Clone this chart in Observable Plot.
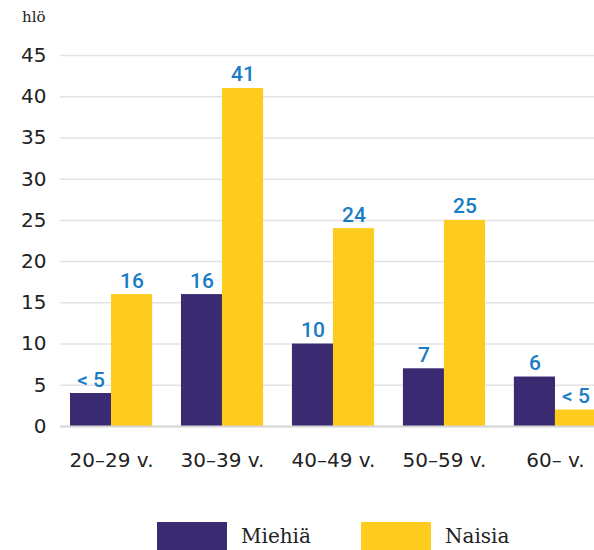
<!DOCTYPE html>
<html><head><meta charset="utf-8">
<script src="https://cdn.jsdelivr.net/npm/d3@7"></script>
<script src="https://cdn.jsdelivr.net/npm/@observablehq/plot@0.6"></script>
<style>
body{margin:0;background:#fff;}
#wrap{position:relative;width:594px;}
#unit{position:absolute;left:22px;top:8px;font:15px "DejaVu Serif",serif;color:#222;}
#legend{position:relative;height:50px;font:20px "DejaVu Serif",serif;color:#222;}
.sw{position:absolute;top:22px;width:70px;height:28px;}
.lt{position:absolute;top:24px;}
</style></head><body>
<div id="wrap"><div id="unit">hlö</div><div id="chart"></div>
<div id="legend">
<div class="sw" style="left:157px;background:#392a72"></div><div class="lt" style="left:241px">Miehiä</div>
<div class="sw" style="left:361px;background:#fecc1f"></div><div class="lt" style="left:445px">Naisia</div>
</div></div>
<script>
const groups = ["20–29 v.","30–39 v.","40–49 v.","50–59 v.","60– v."];
const men = [4,16,10,7,6];
const menLabels = ["< 5","16","10","7","6"];
const women = [16,41,24,25,2];
const womenLabels = ["16","41","24","25","< 5"];
const yTicks = [0,5,10,15,20,25,30,35,40,45];

const menData = groups.map((g,i)=>({g, v:men[i], l:menLabels[i]}));
const womenData = groups.map((g,i)=>({g, v:women[i], l:womenLabels[i]}));

const chart = Plot.plot({
  width: 594, height: 500,
  marginTop: 55, marginBottom: 74, marginLeft: 60, marginRight: 0,
  style: {fontFamily: "DejaVu Sans, sans-serif", fontSize: "20px", color: "#222", overflow: "visible"},
  x: {domain: groups, range: [70, 596], paddingInner: 0.26, paddingOuter: 0, round: false, label: null, tickSize: 0, tickPadding: 26},
  y: {domain: [0,45], ticks: yTicks, label: null, tickSize: 0, tickPadding: 14},
  marks: [
    Plot.gridY(yTicks, {stroke: "#e3e3e3", strokeOpacity: 1, strokeWidth: 1.5}),
    Plot.barY(menData, {x: "g", y: "v", fill: "#392a72", insetRight: 41}),
    Plot.barY(womenData, {x: "g", y: "v", fill: "#fecc1f", insetLeft: 41}),
    Plot.ruleY([0], {stroke: "#d6d6d6", strokeWidth: 2}),
    Plot.text(menData, {x: "g", y: "v", text: "l", dx: -20.5, dy: -7, lineAnchor: "bottom", fill: "#1a7cc3", fontFamily: "Roboto, sans-serif", fontSize: 21, fontWeight: 500}),
    Plot.text(womenData, {x: "g", y: "v", text: "l", dx: 20.5, dy: -7, lineAnchor: "bottom", fill: "#1a7cc3", fontFamily: "Roboto, sans-serif", fontSize: 21, fontWeight: 500})
  ]
});
document.getElementById("chart").appendChild(chart);
</script>
</body></html>
